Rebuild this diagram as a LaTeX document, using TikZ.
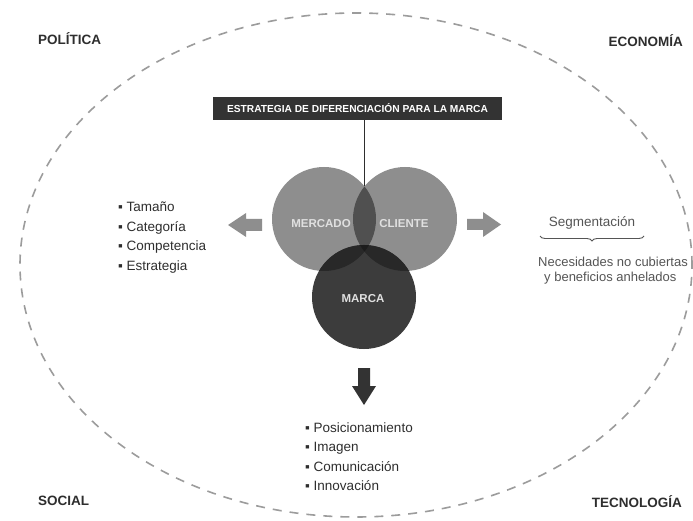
\documentclass[tikz,border=0pt]{standalone}
\usepackage{fontspec}
\setmainfont{Liberation Sans}
\usetikzlibrary{decorations.pathreplacing}
\definecolor{cLight}{HTML}{8E8E8E}
\definecolor{cMC}{HTML}{505050}
\definecolor{cMarca}{HTML}{3C3C3C}
\definecolor{cMM}{HTML}{282828}
\definecolor{cTriple}{HTML}{1C1C1C}
\definecolor{cBox}{HTML}{333333}
\definecolor{cDash}{HTML}{9C9C9C}
\definecolor{cText}{HTML}{2E2E2E}
\definecolor{cSoft}{HTML}{555555}
\tikzset{
  corner/.style={font=\bfseries\fontsize{13.5}{16}\selectfont, text=cText, inner sep=0pt},
  listitem/.style={font=\fontsize{13.5}{16}\selectfont, text=cText, inner sep=0pt, anchor=base west},
  softtext/.style={font=\fontsize{13}{16}\selectfont, text=cSoft, inner sep=0pt},
  circlabel/.style={font=\bfseries\fontsize{11.5}{13}\selectfont, text=white!88!black, inner sep=0pt},
}
\begin{document}
\begin{tikzpicture}[x=1pt,y=-1pt]
\useasboundingbox (0,0) rectangle (693,521);
\fill[white] (0,0) rectangle (693,521);

% outer dashed ellipse
\draw[cDash, line width=1.6pt, dash pattern=on 9pt off 8pt] (356,265) ellipse [x radius=336pt, y radius=252pt];

% corner labels
\node[corner, anchor=base west] (pol) at (38,45) {POLÍTICA};
\node[corner, anchor=base east] (eco) at (683,47) {ECONOMÍA};
\node[corner, anchor=base west] (soc) at (38,505) {SOCIAL};
\node[corner, anchor=base east] (tec) at (682,507) {TECNOLOGÍA};

% Venn circles
\coordinate (M) at (324,219);
\coordinate (C) at (405,219);
\coordinate (K) at (364,297);
\def\rr{52pt}
\fill[cLight] (M) circle[radius=\rr];
\fill[cLight] (C) circle[radius=\rr];
\begin{scope}
  \clip (M) circle[radius=\rr];
  \fill[cMC] (C) circle[radius=\rr];
\end{scope}
\fill[cMarca] (K) circle[radius=\rr];
\begin{scope}
  \clip (K) circle[radius=\rr];
  \fill[cMM] (M) circle[radius=\rr];
  \fill[cMM] (C) circle[radius=\rr];
  \clip (M) circle[radius=\rr];
  \fill[cTriple] (C) circle[radius=\rr];
\end{scope}

\node[circlabel] (lm) at (321,224) {MERCADO};
\node[circlabel] (lc) at (404,224) {CLIENTE};
\node[circlabel] (lk) at (363,299) {MARCA};

% title box and connector
\node[fill=cBox, minimum width=289pt, minimum height=23pt, inner sep=0pt,
      text=white, font=\bfseries\fontsize{10.2}{12}\selectfont] (title) at (357.5,108.5)
      {ESTRATEGIA DE DIFERENCIACIÓN PARA LA MARCA};
\coordinate (top) at (364,186);
\draw[cText, line width=0.8pt] (title.south -| top) -- (top);

% block arrows
\fill[cLight] (262,219) -- (246,219) -- (246,213) -- (228,225) -- (246,237) -- (246,231) -- (262,231) -- cycle;
\fill[cLight] (467,219) -- (483,219) -- (483,212) -- (501,224.5) -- (483,237) -- (483,230) -- (467,230) -- cycle;
\fill[cBox] (358,368) -- (370,368) -- (370,386) -- (376,386) -- (364,405) -- (352,386) -- (358,386) -- cycle;

% left list
\node[listitem] (t1) at (118,212) {▪ Tamaño};
\node[listitem] (t2) at (118,231.5) {▪ Categoría};
\node[listitem] (t3) at (118,251) {▪ Competencia};
\node[listitem] (t4) at (118,270) {▪ Estrategia};

% bottom list
\node[listitem] (b1) at (305,432) {▪ Posicionamiento};
\node[listitem] (b2) at (305,451.5) {▪ Imagen};
\node[listitem] (b3) at (305,471) {▪ Comunicación};
\node[listitem] (b4) at (305,490) {▪ Innovación};

% right side
\node[softtext, anchor=base, font=\fontsize{13.5}{16}\selectfont] (seg) at (592,227) {Segmentación};
\draw[cSoft, line width=0.9pt, decorate, decoration={brace, mirror, amplitude=5pt}] (540,236) -- (644,236);
\node[softtext, anchor=base west] (n1) at (538,266) {Necesidades no cubiertas};
\node[softtext, anchor=base west] (n2) at (544,282) {y beneficios anhelados};
\end{tikzpicture}
\end{document}
